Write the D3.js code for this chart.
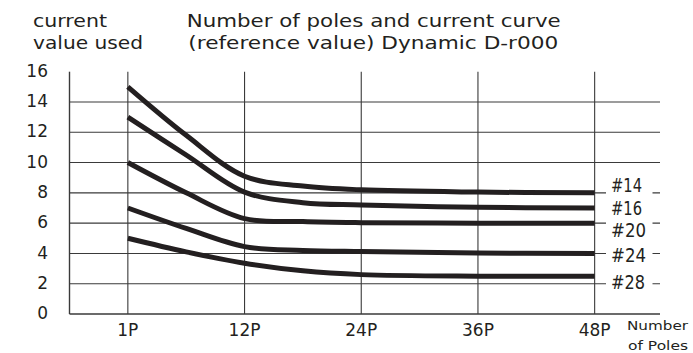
<!DOCTYPE html>
<html>
<head>
<meta charset="utf-8">
<script src="https://cdn.jsdelivr.net/npm/d3@7"></script>
<style>
  html, body { margin: 0; padding: 0; background: #fff; }
  svg { display: block; }
  text { fill: #231f20; font-family: "DejaVu Sans", sans-serif; }
</style>
</head>
<body>
<svg id="chart" width="693" height="353"></svg>
<script>
// ---- data ----
const poleLabels = ["1P", "12P", "24P", "36P", "48P"];
const yTicks = [0, 2, 4, 6, 8, 10, 12, 14, 16];
// sample positions along the pole axis (index into poleLabels, half steps)
const samplePos = [0, 0.5, 1, 1.5, 2, 3, 4];
const wire14 = [15, 11.8, 9.1, 8.45, 8.2, 8.05, 8.0];
const wire16 = [13, 10.5, 8.05, 7.35, 7.2, 7.05, 7.0];
const wire20 = [10, 8.0, 6.3, 6.1, 6.03, 6.0, 6.0];
const wire24 = [7, 5.65, 4.45, 4.2, 4.12, 4.03, 4.0];
const wire28 = [5, 4.1, 3.35, 2.85, 2.6, 2.5, 2.5];
const seriesNames = ["#14", "#16", "#20", "#24", "#28"];
const seriesValues = [wire14, wire16, wire20, wire24, wire28];

// ---- layout ----
const svg = d3.select("#chart");
const plotLeft = 69.5, plotRight = 653, gridRight = 660;
const plotBottom = 314, plotTop = 71.7;
const x = d3.scaleLinear().domain([-0.5, poleLabels.length - 0.5]).range([plotLeft, plotRight]);
const y = d3.scaleLinear().domain([0, 16]).range([plotBottom, plotTop]);
const ink = "#231f20";
const gridColor = "#3a3a3a";

// horizontal gridlines
svg.append("g").selectAll("line")
  .data(yTicks.filter(v => v > 0 && v < 16))
  .join("line")
  .attr("x1", plotLeft).attr("x2", gridRight)
  .attr("y1", d => y(d)).attr("y2", d => y(d))
  .attr("stroke", gridColor).attr("stroke-width", 1.1);

// vertical gridlines at pole categories
svg.append("g").selectAll("line")
  .data(poleLabels)
  .join("line")
  .attr("x1", (d, i) => x(i)).attr("x2", (d, i) => x(i))
  .attr("y1", y(16)).attr("y2", y(0))
  .attr("stroke", gridColor).attr("stroke-width", 1.1);

// axes lines
svg.append("line").attr("x1", plotLeft).attr("x2", plotLeft).attr("y1", y(16)).attr("y2", y(0))
  .attr("stroke", gridColor).attr("stroke-width", 1.4);
svg.append("line").attr("x1", plotLeft).attr("x2", gridRight).attr("y1", y(0)).attr("y2", y(0))
  .attr("stroke", gridColor).attr("stroke-width", 1.4);

// gap behind wire labels
svg.append("rect").attr("x", 606).attr("y", 172).attr("width", 46.5).attr("height", 125).attr("fill", "#fff");

// curves
const line = d3.line()
  .x((d, i) => x(samplePos[i]))
  .y(d => y(d))
  .curve(d3.curveCatmullRom.alpha(0.5));

svg.append("g").selectAll("path")
  .data(seriesValues)
  .join("path")
  .attr("d", d => line(d))
  .attr("fill", "none")
  .attr("stroke", ink)
  .attr("stroke-width", 5)
  .attr("stroke-linecap", "butt");

// wire labels
const labelBaselines = [192.3, 215, 236.7, 261.7, 289.3];
const labelWidths = [31, 31, 35, 35, 34];
svg.append("g").selectAll("text")
  .data(seriesNames)
  .join("text")
  .attr("x", 611)
  .attr("y", (d, i) => labelBaselines[i])
  .attr("textLength", (d, i) => labelWidths[i])
  .attr("lengthAdjust", "spacingAndGlyphs")
  .style("font-family", "'DejaVu Sans Condensed', 'DejaVu Sans', sans-serif")
  .style("font-size", "19px")
  .text(d => d);

// y tick labels
svg.append("g").selectAll("text")
  .data(yTicks)
  .join("text")
  .attr("x", 48)
  .attr("y", d => y(d) - 1)
  .attr("dy", "0.36em")
  .attr("text-anchor", "end")
  .style("font-size", "17px")
  .text(d => d);

// x tick labels
svg.append("g").selectAll("text")
  .data(poleLabels)
  .join("text")
  .attr("x", (d, i) => x(i))
  .attr("y", 336)
  .attr("text-anchor", "middle")
  .style("font-size", "17px")
  .text(d => d);

// axis titles
svg.append("text").attr("x", 33).attr("y", 26.7).attr("textLength", 74).attr("lengthAdjust", "spacingAndGlyphs")
  .style("font-size", "17px").text("current");
svg.append("text").attr("x", 33).attr("y", 48.5).attr("textLength", 110).attr("lengthAdjust", "spacingAndGlyphs")
  .style("font-size", "17px").text("value used");

svg.append("text").attr("x", 627).attr("y", 330).attr("textLength", 61).attr("lengthAdjust", "spacingAndGlyphs")
  .style("font-size", "12.5px").text("Number");
svg.append("text").attr("x", 628).attr("y", 350).attr("textLength", 60).attr("lengthAdjust", "spacingAndGlyphs")
  .style("font-size", "12.5px").text("of Poles");

// chart title
svg.append("text").attr("x", 186.7).attr("y", 26.7).attr("textLength", 374).attr("lengthAdjust", "spacingAndGlyphs")
  .style("font-size", "17px").text("Number of poles and current curve");
svg.append("text").attr("x", 188.3).attr("y", 48.5).attr("textLength", 370).attr("lengthAdjust", "spacingAndGlyphs")
  .style("font-size", "17px").text("(reference value) Dynamic D-r000");
</script>
</body>
</html>
